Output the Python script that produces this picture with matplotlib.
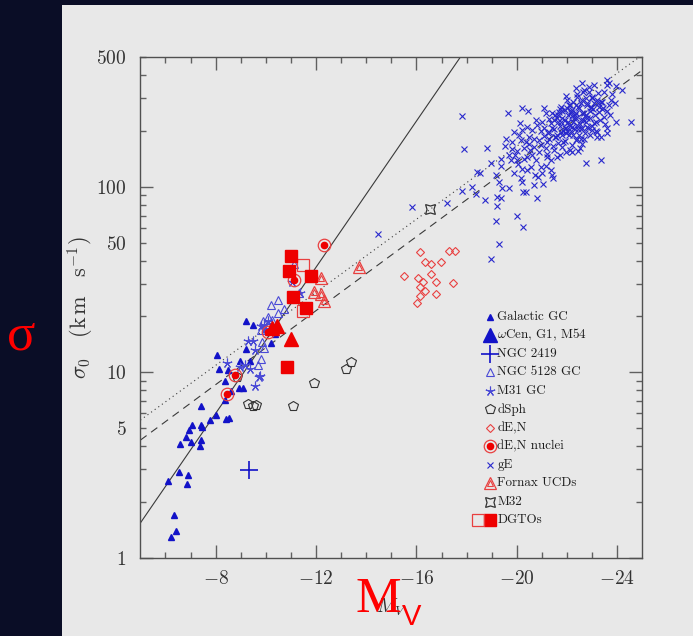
import matplotlib.pyplot as plt
from matplotlib.patches import Rectangle
import numpy as np

plt.rcParams['mathtext.fontset'] = 'cm'
plt.rcParams['font.family'] = ['cmr10', 'DejaVu Serif']

# ---- data: absolute magnitude M_V and central velocity dispersion sigma_0 (km/s)
ggc_M = [-9.19, -9.48, -8.07, -8.14, -8.51, -8.38, -8.62, -8.92, -9.08, -9.22,
         -9.35, -8.99, -10.21, -10.38, -8.38, -7.42, -8.01, -7.79, -8.41, -8.54,
         -7.07, -7.43, -7.46, -6.93, -6.83, -7.42, -7.03, -6.60, -7.39, -6.54,
         -6.90, -6.12, -6.86, -6.36, -6.44, -6.21]
ggc_sig = [18.9, 18.0, 12.4, 10.4, 10.3, 9.0, 7.97, 8.21, 8.21, 13.3,
           11.5, 11.5, 14.4, 16.0, 7.1, 6.6, 5.9, 5.5, 5.6, 5.7,
           5.19, 5.17, 5.08, 4.89, 4.50, 4.29, 4.20, 4.08, 4.01, 2.90,
           2.80, 2.58, 2.50, 1.69, 1.40, 1.30]

massive_M = [-10.25, -10.45, -11.02]          # omega Cen, G1, M54
massive_sig = [17.3, 17.8, 15.1]

n2419_M = [-9.34]
n2419_sig = [2.97]

n5128_M = [-11.13, -10.49, -10.20, -10.73, -10.48, -10.07, -10.24, -9.87, -9.79,
           -9.91, -9.81, -9.68, -11.33, -9.84]
n5128_sig = [38.5, 24.5, 23.1, 22.0, 20.9, 19.8, 19.2, 18.8, 16.9,
             13.5, 11.8, 10.96, 26.7, 14.6]

m31_M = [-9.27, -9.48, -9.58, -8.45, -8.98, -9.18, -9.35, -9.71, -9.58, -9.91,
         -9.97, -10.07, -9.82, -11.04, -11.37, -9.75]
m31_sig = [14.8, 14.8, 13.2, 11.2, 10.7, 10.9, 10.4, 9.4, 8.4, 18.0,
           17.1, 19.0, 17.8, 30.8, 26.7, 9.5]

dsph_M = [-8.85, -9.28, -9.48, -9.60, -11.10, -11.90, -13.21, -13.40]
dsph_sig = [9.4, 6.76, 6.59, 6.67, 6.59, 8.74, 10.4, 11.3]

den_M = [-16.16, -17.31, -17.52, -16.33, -16.58, -16.98, -15.49, -16.07, -16.25,
         -16.58, -16.78, -17.46, -16.13, -16.33, -16.76, -16.13, -16.03]
den_sig = [44.4, 45.3, 45.3, 39.2, 38.4, 39.2, 33.1, 32.1, 30.6,
           33.9, 30.8, 30.4, 28.7, 27.6, 26.5, 25.8, 23.6]

nuc_M = [-8.45, -8.79, -10.08, -11.14, -12.33]
nuc_sig = [7.65, 9.68, 16.4, 31.5, 48.4]

ucd_M = [-13.71, -12.21, -11.90, -12.20, -12.33]
ucd_sig = [37.1, 32.1, 27.2, 26.4, 24.3]

m32_M = [-16.56]
m32_sig = [75.7]

dgto_M = [-11.01, -10.92, -11.80, -11.08, -11.60, -10.84]
dgto_sig = [42.4, 35.0, 33.1, 25.4, 22.2, 10.7]
dgto_open_M = [-11.48, -11.50]
dgto_open_sig = [37.9, 21.5]

# giant ellipticals, log10 sigma_0
ge_M = [-17.82, -19.66, -20.21, -20.45, -17.91, -18.82, -24.54, -22.77, -23.34, -23.37,
        -23.58, -23.94, -18.98, -18.42, -18.55, -19.16, -19.38, -19.90, -20.15, -20.21,
        -19.28, -19.42, -19.68, -18.22, -17.82, -18.39, -17.22, -18.75, -19.22, -19.35,
        -19.19, -20.25, -20.35, -20.81, -20.67, -21.04, -20.83, -20.73, -21.00, -21.38,
        -21.41, -21.45, -19.99, -20.25, -19.16, -19.28, -18.98, -19.55, -19.52, -19.88,
        -20.12, -19.79, -19.75, -19.91, -20.02, -20.04, -20.28, -20.41, -20.52, -20.68,
        -20.35, -20.48, -20.62, -20.81, -20.75, -20.95, -20.88, -20.95, -21.18, -21.21,
        -21.08, -21.28, -21.41, -21.35, -21.18, -21.10, -21.54, -21.64, -21.74, -21.54,
        -21.64, -21.48, -21.61, -21.81, -21.94, -22.12, -22.21, -22.43, -22.61, -22.34,
        -22.07, -21.90, -21.81, -21.90, -21.94, -22.07, -22.25, -22.34, -22.41, -22.61,
        -22.67, -22.87, -23.07, -23.23, -23.47, -23.61, -23.58, -23.67, -23.94, -23.74,
        -23.67, -23.61, -23.71, -23.47, -23.27, -23.41, -23.21, -23.01, -22.81, -22.94,
        -22.67, -22.47, -22.54, -22.81, -23.07, -23.01, -23.21, -22.81, -22.61, -22.41,
        -22.28, -22.14, -22.01, -22.21, -22.47, -22.67, -22.01, -21.74, -22.21, -22.34,
        -22.54, -22.74, -22.87, -23.07, -23.27, -23.45, -21.68, -21.48, -21.28, -21.01,
        -20.41, -20.21, -20.08, -20.15, -20.48, -20.62, -20.75, -20.95, -21.15, -20.55,
        -20.41, -20.21, -19.82, -19.68, -19.35, -19.99, -21.35, -21.21, -15.83, -14.48,
        -21.90, -22.00, -22.30, -22.50, -22.20, -21.70, -21.60, -22.60, -22.90, -23.10,
        -22.70, -22.40, -21.90, -21.50, -21.30, -21.10, -22.10, -22.80, -23.30, -23.00,
        -22.50, -22.20, -21.80, -21.40, -23.40, -23.50, -22.90, -22.60, -22.00, -21.20,
        -20.90, -20.70, -20.30, -21.70, -22.40, -23.00, -23.80, -23.90, -24.20, -23.60,
        -21.55, -21.75, -21.95, -22.15, -22.35, -22.55, -22.75, -22.95, -23.15, -23.35,
        -21.65, -21.85, -22.05, -22.25, -22.45, -22.65, -22.85, -23.05, -23.25, -22.10,
        -21.45, -21.85, -22.35, -22.75, -23.15, -22.55, -22.05, -21.95, -22.65, -22.25,
        -21.25, -21.60, -22.90, -23.20, -22.30, -21.80, -22.70, -22.15, -21.70, -22.45]
ge_logsig = [2.382, 2.399, 2.423, 2.410, 2.205, 2.211, 2.348, 2.127, 2.144, 2.270,
             2.319, 2.348, 2.127, 2.078, 2.073, 2.064, 2.114, 2.076, 2.046, 2.024,
             2.024, 1.995, 1.992, 1.997, 1.977, 1.960, 1.914, 1.929, 1.943, 1.938,
             1.898, 1.970, 1.974, 1.941, 2.010, 2.015, 2.051, 2.064, 2.076, 2.091,
             2.064, 2.046, 1.844, 1.785, 1.816, 1.692, 1.609, 2.258, 2.222, 2.297,
             2.342, 2.202, 2.144, 2.171, 2.195, 2.123, 2.148, 2.162, 2.198, 2.213,
             2.243, 2.270, 2.306, 2.333, 2.360, 2.301, 2.252, 2.225, 2.208, 2.243,
             2.274, 2.297, 2.315, 2.342, 2.396, 2.423, 2.387, 2.348, 2.297, 2.270,
             2.238, 2.198, 2.162, 2.213, 2.189, 2.198, 2.225, 2.195, 2.234, 2.252,
             2.279, 2.315, 2.369, 2.414, 2.489, 2.441, 2.459, 2.531, 2.486, 2.558,
             2.525, 2.539, 2.549, 2.504, 2.512, 2.549, 2.579, 2.561, 2.543, 2.471,
             2.441, 2.410, 2.387, 2.378, 2.405, 2.459, 2.468, 2.486, 2.450, 2.423,
             2.396, 2.423, 2.360, 2.369, 2.342, 2.306, 2.297, 2.324, 2.315, 2.333,
             2.369, 2.396, 2.342, 2.324, 2.279, 2.261, 2.423, 2.432, 2.414, 2.396,
             2.450, 2.477, 2.512, 2.450, 2.432, 2.423, 2.405, 2.360, 2.364, 2.351,
             2.324, 2.306, 2.279, 2.252, 2.234, 2.171, 2.144, 2.108, 2.112, 2.108,
             2.090, 2.099, 2.243, 2.171, 2.153, 2.144, 2.144, 2.162, 1.889, 1.746,
             2.36, 2.30, 2.31, 2.34, 2.38, 2.33, 2.28, 2.40, 2.37, 2.39,
             2.29, 2.26, 2.25, 2.31, 2.26, 2.32, 2.44, 2.44, 2.36, 2.33,
             2.21, 2.19, 2.41, 2.40, 2.42, 2.34, 2.28, 2.47, 2.47, 2.18,
             2.19, 2.26, 2.21, 2.17, 2.50, 2.48, 2.50, 2.45, 2.52, 2.29,
             2.27, 2.35, 2.29, 2.41, 2.37, 2.31, 2.39, 2.43, 2.35, 2.46,
             2.39, 2.30, 2.35, 2.28, 2.43, 2.36, 2.32, 2.42, 2.45, 2.33,
             2.22, 2.24, 2.44, 2.35, 2.30, 2.26, 2.39, 2.32, 2.51, 2.35,
             2.29, 2.37, 2.41, 2.27, 2.39, 2.28, 2.38, 2.30, 2.42, 2.31]

# scaling relations: log sigma = zero point + slope * (-M_V)
rel_solid = (-0.7985, 0.1971)
rel_dotted = (0.2495, 0.0985)
rel_dashed = (0.135, 0.0998)

tick_x = [-8, -12, -16, -20, -24]
tick_y = [1, 5, 10, 50, 100, 500]

# ---- styles
blue = '#1212c8'
lblue = '#4a4ad6'
gblue = '#2828cc'
red = '#ee0000'
lred = '#e84040'

st_ggc = dict(marker='^', ms=4.2, color=blue, ls='none')
st_mass_leg = dict(marker='^', ms=10, color=blue, ls='none')
st_mass = dict(marker='^', ms=10, color=red, ls='none')
st_2419 = dict(marker='+', ms=13, mew=1.2, color=blue, ls='none')
st_5128 = dict(marker='^', ms=6, mfc='none', mec=lblue, mew=0.8, ls='none')
st_m31 = dict(marker=(5, 2, 0), ms=7, color=lblue, mew=0.8, ls='none')
st_dsph = dict(marker='p', ms=7, mfc='none', mec='#333333', mew=0.8, ls='none')
st_den = dict(marker='D', ms=4.5, mfc='none', mec=lred, mew=0.8, ls='none')
st_nuc_o = dict(marker='o', ms=9, mfc='none', mec=lred, mew=0.9, ls='none')
st_nuc_i = dict(marker='o', ms=4.5, color=red, ls='none')
st_ge = dict(marker='x', ms=4.2, mew=0.8, color=gblue, ls='none')
st_ucd_o = dict(marker='^', ms=9, mfc='none', mec=lred, mew=0.9, ls='none')
st_ucd_i = dict(marker='^', ms=4.5, mfc='none', mec=lred, mew=0.8, ls='none')
st_m32 = dict(marker=(4, 1, 45), ms=10, mfc='none', mec='#333333', mew=0.9, ls='none')
st_dgto = dict(marker='s', ms=8.5, color=red, ls='none')
st_dgto_o = dict(marker='s', ms=9, mfc='none', mec=lred, mew=0.9, ls='none')

fig = plt.figure(figsize=(6.93, 6.36), dpi=100, facecolor='#0a0d26')
fig.patches.append(Rectangle((62 / 693, 0), 1, 1 - 5 / 636, transform=fig.transFigure,
                             facecolor='#e8e8e8', edgecolor='none', zorder=-10))

ax = fig.add_axes([0.2025, 0.1231, 0.7244, 0.7868])
ax.set_zorder(1)
ax.set_facecolor('#e8e8e8')
ax.set_yscale('log')
ax.set_xlim(-5, -25)
ax.set_ylim(1, 500)

# relations
mm = np.linspace(-5, -25, 200)
for (a, b), ls in [(rel_solid, '-'), (rel_dotted, (0, (1, 3))), (rel_dashed, (0, (7, 5)))]:
    ax.plot(mm, 10 ** (a - b * mm), color='#3a3a3a', lw=0.8, ls=ls)

ax.plot(ge_M, 10 ** np.array(ge_logsig), **st_ge)
ax.plot(ggc_M, ggc_sig, **st_ggc)
ax.plot(n2419_M, n2419_sig, **st_2419)
ax.plot(n5128_M, n5128_sig, **st_5128)
ax.plot(m31_M, m31_sig, **st_m31)
ax.plot(dsph_M, dsph_sig, **st_dsph)
ax.plot(den_M, den_sig, **st_den)
ax.plot(nuc_M, nuc_sig, **st_nuc_o)
ax.plot(nuc_M, nuc_sig, **st_nuc_i)
ax.plot(ucd_M, ucd_sig, **st_ucd_o)
ax.plot(ucd_M, ucd_sig, **st_ucd_i)
ax.plot(m32_M, m32_sig, **st_m32)
ax.plot(dgto_open_M, dgto_open_sig, **st_dgto_o)
ax.plot(dgto_M, dgto_sig, **st_dgto)
ax.plot(massive_M, massive_sig, **st_mass)

# legend, drawn row by row in axes coordinates
rows = [
    ('Galactic GC', [st_ggc]),
    (r'$\omega$Cen, G1, M54', [st_mass_leg]),
    ('NGC 2419', [st_2419]),
    ('NGC 5128 GC', [st_5128]),
    ('M31 GC', [st_m31]),
    ('dSph', [st_dsph]),
    ('dE,N', [st_den]),
    ('dE,N nuclei', [st_nuc_o, st_nuc_i]),
    ('gE', [st_ge]),
    ('Fornax UCDs', [st_ucd_o, st_ucd_i]),
    ('M32', [st_m32]),
    ('DGTOs', [st_dgto]),
]
y0, dy = 0.4813, 0.03695
for i, (lab, styles) in enumerate(rows):
    yy = y0 - i * dy
    for st in styles:
        ax.plot([0.697], [yy], transform=ax.transAxes, clip_on=False, **st)
    ax.text(0.711, yy, lab, transform=ax.transAxes, fontsize=9.4, va='center',
            ha='left', color='#1e1e1e')
ax.plot([0.673], [y0 - 11 * dy], transform=ax.transAxes, clip_on=False, **st_dgto_o)

# axes frame and ticks
for sp in ax.spines.values():
    sp.set_color('#505050')
    sp.set_linewidth(1.0)
ax.set_xticks(tick_x)
ax.set_xticklabels([r'$%d$' % v for v in tick_x])
ax.set_xticks(np.arange(-6, -25, -1), minor=True)
ax.set_yticks(tick_y)
ax.set_yticklabels([r'$%d$' % v for v in tick_y])
ax.set_yticks([2, 3, 4, 6, 7, 8, 9, 20, 30, 40, 60, 70, 80, 90, 200, 300, 400], minor=True)
ax.yaxis.set_minor_formatter(plt.NullFormatter())
ax.tick_params(which='both', direction='in', top=True, right=True, color='#606060',
               width=1.0, labelsize=14, labelcolor='#333333')
ax.tick_params(which='major', length=9.5)
ax.tick_params(which='minor', length=4.5)
ax.tick_params(axis='x', pad=9)
ax.tick_params(axis='y', pad=10)
for t, v in zip(ax.yaxis.get_major_ticks(), tick_y):
    if v in (5, 50, 500):
        t.tick1line.set_markersize(4.5)
        t.tick2line.set_markersize(4.5)

ax.set_ylabel(r'$\sigma_0\quad(\mathrm{k\,m\quad s^{-1}})$', fontsize=16, color='#333333',
              labelpad=0)
ax.set_xlabel(r'$M_V$', fontsize=14, color='#333333', labelpad=6)

# red captions
fig.text(21 / 693, 1 - 336 / 636, '\u03c3', color='#ff0000', fontsize=38,
         family='Liberation Serif', ha='center', va='center', zorder=5)
fig.text(355 / 693, 1 - 612 / 636, 'M', color='#ff0000', fontsize=37,
         family='Liberation Serif', ha='left', va='baseline', zorder=5)
fig.text(402 / 693, 1 - 625 / 636, 'V', color='#ff0000', fontsize=21,
         family='Liberation Sans', ha='left', va='baseline', zorder=5)

fig.savefig('out.png', dpi=100, facecolor=fig.get_facecolor())
